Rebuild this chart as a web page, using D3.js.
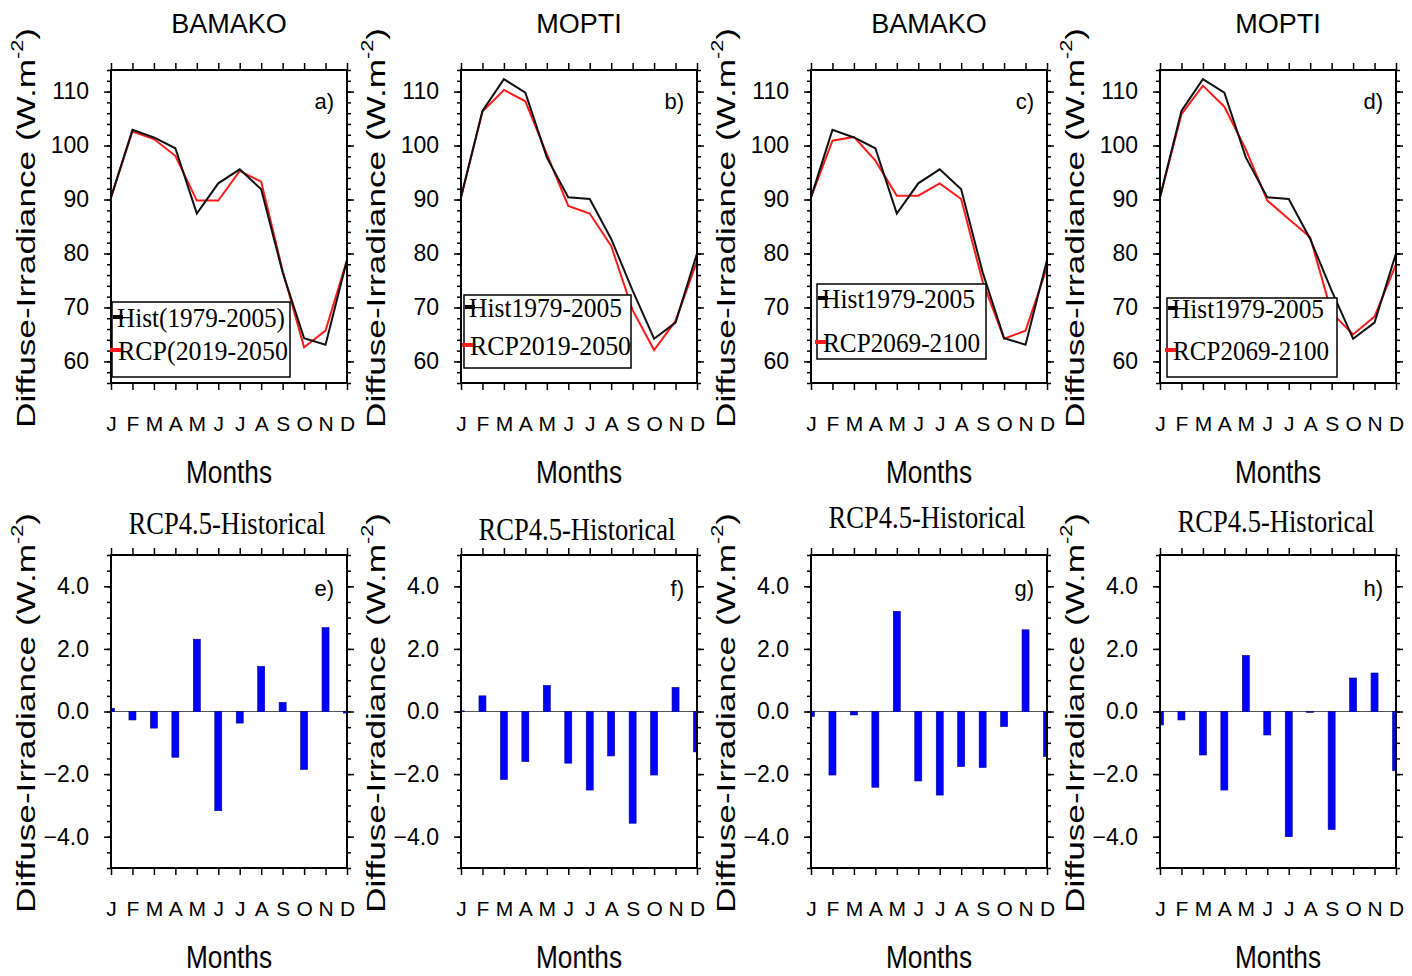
<!DOCTYPE html>
<html>
<head>
<meta charset="utf-8">
<script src="https://cdn.jsdelivr.net/npm/d3@7"></script>
<style>
  body { margin: 0; background: #fff; }
  svg { display: block; }
  .axis path { display: none; }
  .axis line { stroke: #000; stroke-width: 1.5; }
  .axis text { font-family: "Liberation Sans", Arial, sans-serif; fill: #000; }
</style>
</head>
<body>
<svg id="chart" width="1412" height="976"></svg>
<script>
// ---- data ----
var months = ["J", "F", "M", "A", "M", "J", "J", "A", "S", "O", "N", "D"];

var histBamako   = [90.4, 102.9, 101.5, 99.5, 87.4, 93.0, 95.6, 91.9, 76.5, 64.3, 63.1, 78.8];
var rcpBamako50  = [90.4, 102.6, 101.2, 98.1, 89.8, 89.8, 95.3, 93.3, 76.8, 62.6, 65.7, 78.8];
var rcpBamako100 = [90.4, 100.9, 101.6, 97.2, 90.7, 90.7, 93.0, 90.1, 74.8, 64.2, 65.7, 77.4];
var histMopti    = [90.4, 106.4, 112.3, 109.8, 97.8, 90.4, 90.1, 82.7, 73.1, 64.2, 67.2, 80.0];
var rcpMopti50   = [90.4, 106.3, 110.3, 108.2, 98.4, 88.8, 87.4, 81.4, 69.5, 62.1, 67.5, 78.6];
var rcpMopti100  = [90.4, 105.8, 111.1, 107.2, 99.3, 89.8, 86.4, 83.0, 69.0, 65.0, 68.3, 78.0];

var diffBamako50  = [0.10, -0.27, -0.53, -1.46, 2.31, -3.17, -0.37, 1.44, 0.29, -1.85, 2.68, -0.05];
var diffMopti50   = [0.02, 0.50, -2.17, -1.60, 0.83, -1.65, -2.51, -1.42, -3.57, -2.03, 0.77, -1.29];
var diffBamako100 = [-0.16, -2.03, -0.11, -2.42, 3.20, -2.22, -2.67, -1.76, -1.79, -0.48, 2.61, -1.44];
var diffMopti100  = [-0.43, -0.27, -1.39, -2.51, 1.79, -0.75, -4.00, -0.03, -3.77, 1.07, 1.23, -1.89];

var stations    = ["BAMAKO", "MOPTI", "BAMAKO", "MOPTI"];
var topTags     = ["a)", "b)", "c)", "d)"];
var bottomTags  = ["e)", "f)", "g)", "h)"];
var histLabels  = ["Hist(1979-2005)", "Hist1979-2005", "Hist1979-2005", "Hist1979-2005"];
var rcpLabels   = ["RCP(2019-2050", "RCP2019-2050", "RCP2069-2100", "RCP2069-2100"];
var diffTitle   = "RCP4.5-Historical";

var lineTicks = [60, 70, 80, 90, 100, 110];
var barTicks  = [-4, -2, 0, 2, 4];

// ---- layout ----
var svg = d3.select("#chart");
var colX = [111, 461, 811, 1160];
var pw = 236, ph = 313;
var topY = 70, botY = 555;

var hist = [histBamako, histMopti, histBamako, histMopti];
var rcp  = [rcpBamako50, rcpMopti50, rcpBamako100, rcpMopti100];
var diffs = [diffBamako50, diffMopti50, diffBamako100, diffMopti100];

// legend boxes: [x, y, w, h, baseline1, baseline2] relative to page
var legendBox = [
    [112, 302, 178, 75, 327, 360],
    [464, 295, 167, 73, 317, 355],
    [817, 284, 169, 75, 308, 352],
    [1167, 298, 170, 79, 318, 360]
];
var legendTextLen = [[168, 170], [153, 161], [153, 157], [152, 156]];
var barTitleBase = [534, 540, 528, 532];

function drawFrame(g, x, y, majors, minors, labelFmt)
{
    g.append("g").attr("class", "axis")
        .call(d3.axisLeft(y).tickValues(minors).tickSize(4).tickFormat(""));
    g.append("g").attr("class", "axis")
        .call(d3.axisLeft(y).tickValues(majors).tickSize(7).tickPadding(15).tickFormat(labelFmt))
        .selectAll("text").style("font-size", "23px");
    g.append("g").attr("class", "axis").attr("transform", "translate(" + pw + ",0)")
        .call(d3.axisRight(y).tickValues(minors).tickSize(4).tickFormat(""));
    g.append("g").attr("class", "axis").attr("transform", "translate(" + pw + ",0)")
        .call(d3.axisRight(y).tickValues(majors).tickSize(7).tickFormat(""));
    g.append("g").attr("class", "axis")
        .call(d3.axisTop(x).tickValues(d3.range(12)).tickSize(7).tickFormat(""));
    g.append("g").attr("class", "axis").attr("transform", "translate(0," + ph + ")")
        .call(d3.axisBottom(x).tickValues(d3.range(12)).tickSize(7).tickPadding(26)
            .tickFormat(function(i) { return months[i]; }))
        .selectAll("text").style("font-size", "21px");

    g.append("rect")
        .attr("width", pw).attr("height", ph)
        .attr("fill", "none").attr("stroke", "#000").attr("stroke-width", 2);
}

function yLabel(px, cy)
{
    var t = svg.append("text")
        .attr("transform", "translate(" + (px - 76) + "," + cy + ") rotate(-90)")
        .attr("text-anchor", "middle")
        .attr("font-family", "Liberation Sans, Arial, sans-serif")
        .attr("font-size", 26)
        .attr("textLength", 400)
        .attr("lengthAdjust", "spacingAndGlyphs");
    t.append("tspan").text("Diffuse-Irradiance (W.m");
    t.append("tspan").attr("font-size", 16).attr("dy", "-0.75em").text("-2");
    t.append("tspan").attr("dy", "0.48em").text(")");
}

function monthsLabel(px, base)
{
    svg.append("text")
        .attr("x", px + pw / 2).attr("y", base)
        .attr("text-anchor", "middle")
        .attr("font-family", "Liberation Sans, Arial, sans-serif")
        .attr("font-size", 31)
        .attr("textLength", 86)
        .attr("lengthAdjust", "spacingAndGlyphs")
        .text("Months");
}

// ---- top row: monthly cycles ----
colX.forEach(function(px, k)
{
    var x = d3.scaleLinear().domain([0, 11]).range([0, pw]);
    var y = d3.scaleLinear().domain([56, 114]).range([ph, 0]);
    var g = svg.append("g").attr("transform", "translate(" + px + "," + topY + ")");

    var line = d3.line()
        .x(function(d, i) { return x(i); })
        .y(function(d) { return y(d); });

    g.append("path").datum(rcp[k])
        .attr("d", line).attr("fill", "none")
        .attr("stroke", "#ff1a1a").attr("stroke-width", 2);
    g.append("path").datum(hist[k])
        .attr("d", line).attr("fill", "none")
        .attr("stroke", "#111").attr("stroke-width", 2);

    drawFrame(g, x, y, lineTicks, d3.range(56, 115, 2), d3.format("d"));

    g.append("text")
        .attr("x", pw - 13).attr("y", 39)
        .attr("text-anchor", "end")
        .attr("font-family", "Liberation Sans, Arial, sans-serif")
        .attr("font-size", 22)
        .text(topTags[k]);

    // legend
    var lb = legendBox[k];
    var leg = svg.append("g");
    leg.append("rect")
        .attr("x", lb[0]).attr("y", lb[1]).attr("width", lb[2]).attr("height", lb[3])
        .attr("fill", "#fff").attr("stroke", "#000").attr("stroke-width", 1.5);
    leg.append("line")
        .attr("x1", lb[0] + 1).attr("x2", lb[0] + 11)
        .attr("y1", lb[4] - 10).attr("y2", lb[4] - 10)
        .attr("stroke", "#000").attr("stroke-width", 4);
    leg.append("line")
        .attr("x1", lb[0] - 2).attr("x2", lb[0] + 11)
        .attr("y1", lb[5] - 10).attr("y2", lb[5] - 10)
        .attr("stroke", "#ff1a1a").attr("stroke-width", 4);
    leg.append("text")
        .attr("x", lb[0] + 5).attr("y", lb[4])
        .attr("font-family", "Liberation Serif, Times New Roman, serif")
        .attr("font-size", 28)
        .attr("textLength", legendTextLen[k][0])
        .attr("lengthAdjust", "spacingAndGlyphs")
        .text(histLabels[k]);
    leg.append("text")
        .attr("x", lb[0] + 6).attr("y", lb[5])
        .attr("font-family", "Liberation Serif, Times New Roman, serif")
        .attr("font-size", 28)
        .attr("textLength", legendTextLen[k][1])
        .attr("lengthAdjust", "spacingAndGlyphs")
        .text(rcpLabels[k]);

    svg.append("text")
        .attr("x", px + pw / 2).attr("y", 33)
        .attr("text-anchor", "middle")
        .attr("font-family", "Liberation Sans, Arial, sans-serif")
        .attr("font-size", 27)
        .text(stations[k]);

    yLabel(px, 228);
    monthsLabel(px, 483);
});

// ---- bottom row: differences ----
colX.forEach(function(px, k)
{
    var x = d3.scaleLinear().domain([0, 11]).range([0, pw]);
    var y = d3.scaleLinear().domain([-5, 5]).range([ph, 0]);
    var g = svg.append("g").attr("transform", "translate(" + px + "," + botY + ")");

    var clipId = "clip" + k;
    g.append("clipPath").attr("id", clipId)
        .append("rect").attr("width", pw).attr("height", ph);

    var bars = g.append("g").attr("clip-path", "url(#" + clipId + ")");
    bars.append("line")
        .attr("x1", 0).attr("x2", pw)
        .attr("y1", y(0)).attr("y2", y(0))
        .attr("stroke", "#555").attr("stroke-width", 1);
    bars.selectAll("rect")
        .data(diffs[k])
        .enter()
        .append("rect")
        .attr("x", function(d, i) { return x(i) - 3.5; })
        .attr("width", 7)
        .attr("y", function(d) { return y(Math.max(0, d)); })
        .attr("height", function(d) { return Math.abs(y(d) - y(0)); })
        .attr("fill", "#0000ff")
        .attr("stroke", "#00008a")
        .attr("stroke-width", 0.6);

    drawFrame(g, x, y, barTicks, d3.range(-5, 5.01, 0.5), d3.format(".1f"));

    g.append("text")
        .attr("x", pw - 13).attr("y", 41)
        .attr("text-anchor", "end")
        .attr("font-family", "Liberation Sans, Arial, sans-serif")
        .attr("font-size", 22)
        .text(bottomTags[k]);

    svg.append("text")
        .attr("x", px + pw / 2 - 2).attr("y", barTitleBase[k])
        .attr("text-anchor", "middle")
        .attr("font-family", "Liberation Serif, Times New Roman, serif")
        .attr("font-size", 32)
        .attr("textLength", 197)
        .attr("lengthAdjust", "spacingAndGlyphs")
        .text(diffTitle);

    yLabel(px, 713);
    monthsLabel(px, 968);
});
</script>
</body>
</html>
